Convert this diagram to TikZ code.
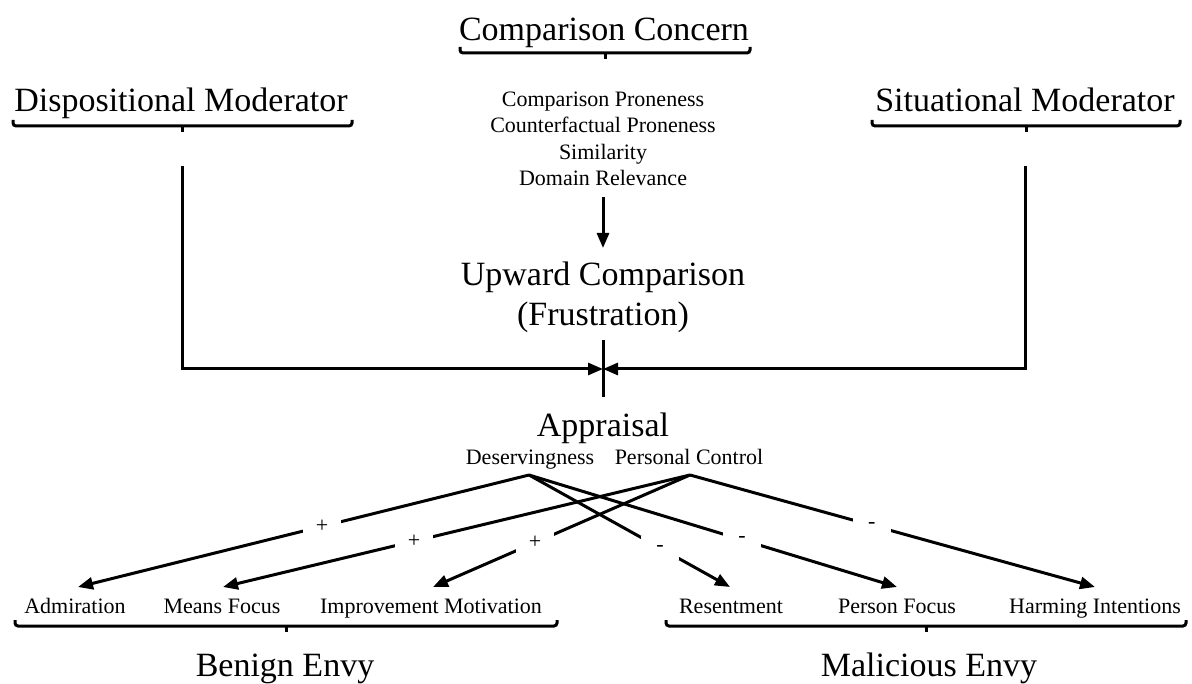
\documentclass[tikz,border=0pt]{standalone}
\usepackage{fontspec}
\setmainfont{Liberation Serif}
\usetikzlibrary{arrows.meta}
\newcommand{\flatbrace}[3]{%
  \draw[bracebar] (#1,#3-6) -- (#1,#3) -- (#2,#3) -- (#2,#3-6);
  \draw[bracebar, rounded corners=0pt] ({(#1+#2)/2},#3) -- ({(#1+#2)/2},#3+6);}
\begin{document}
\begin{tikzpicture}[x=1pt,y=-1pt,
  big/.style={font=\fontsize{34}{40}\selectfont, inner sep=0pt, anchor=base},
  small/.style={font=\fontsize{22}{26}\selectfont, inner sep=0pt, anchor=base},
  sign/.style={font=\fontsize{22}{26}\selectfont, fill=white, inner sep=0pt, minimum width=38pt, minimum height=24pt},
  conn/.style={line width=3pt},
  arr/.style={conn, -{Triangle[length=15pt,width=12pt]}},
  bracebar/.style={line width=3pt, rounded corners=3pt, line cap=butt}]
\useasboundingbox (0,0) rectangle (1192,684);

% top headings
\node[big] (concern) at (604,41) {Comparison Concern};
\node[big] (disp) at (181,112) {Dispositional Moderator};
\node[big] (sit) at (1025,112) {Situational Moderator};

% braces under headings
\flatbrace{460}{750}{53}
\flatbrace{13}{352}{126}
\flatbrace{872}{1180}{126}

% concern list
\node[small] (cp1) at (603,106.5) {Comparison Proneness};
\node[small] (cp2) at (603,133) {Counterfactual Proneness};
\node[small] (cp3) at (603,159.5) {Similarity};
\node[small] (cp4) at (603,186) {Domain Relevance};

\node[big] (up1) at (603,286) {Upward Comparison};
\node[big] (up2) at (603,326) {(Frustration)};

\coordinate (listOut) at (603,197);
\coordinate (upIn) at (603,248);
\draw[arr] (listOut) -- (upIn);

% moderator lines
\coordinate (dispOut) at (182,166);
\coordinate (sitOut) at (1025,166);
\coordinate (join) at (603,369);
\coordinate (joinTop) at (603,340);
\coordinate (joinBot) at (603,397);
\draw[arr] (dispOut) |- (join);
\draw[arr] (sitOut) |- (join);
\draw[conn] (joinTop) -- (joinBot);

% appraisal
\node[big] (appr) at (603,437) {Appraisal};
\node[small] (des) at (530,465) {Deservingness};
\node[small] (pc) at (689,465) {Personal Control};
\coordinate (desOut) at (529,475);
\coordinate (pcOut) at (690,475);

% outcome items
\node[small] (adm) at (75,613) {Admiration};
\node[small] (means) at (222,613) {Means Focus};
\node[small] (impr) at (431,613) {Improvement Motivation};
\node[small] (res) at (731,613) {Resentment};
\node[small] (pers) at (897,613) {Person Focus};
\node[small] (harm) at (1095,613) {Harming Intentions};

\coordinate (admIn) at (78,587);
\coordinate (meansIn) at (223,587);
\coordinate (imprIn) at (433,587);
\coordinate (resIn) at (730,587);
\coordinate (persIn) at (897,587);
\coordinate (harmIn) at (1095,587);

\draw[arr] (desOut) -- (admIn);
\draw[arr] (desOut) -- (resIn);
\draw[arr] (desOut) -- (persIn);
\draw[arr] (pcOut) -- (meansIn);
\draw[arr] (pcOut) -- (imprIn);
\draw[arr] (pcOut) -- (harmIn);

\path (desOut) -- node[sign, pos=0.459] (s1) {+} (admIn);
\path (desOut) -- node[sign, pos=0.652] (s2) {-} (resIn);
\path (desOut) -- node[sign, pos=0.579] (s3) {-} (persIn);
\path (pcOut) -- node[sign, pos=0.591] (s4) {+} (meansIn);
\path (pcOut) -- node[sign, pos=0.603] (s5) {+} (imprIn);
\path (pcOut) -- node[sign, pos=0.449] (s6) {-} (harmIn);

% bottom braces and groups
\flatbrace{15}{557}{626}
\flatbrace{666}{1186}{626}
\node[big] (benign) at (285,676) {Benign Envy};
\node[big] (malic) at (929,676) {Malicious Envy};
\end{tikzpicture}
\end{document}
